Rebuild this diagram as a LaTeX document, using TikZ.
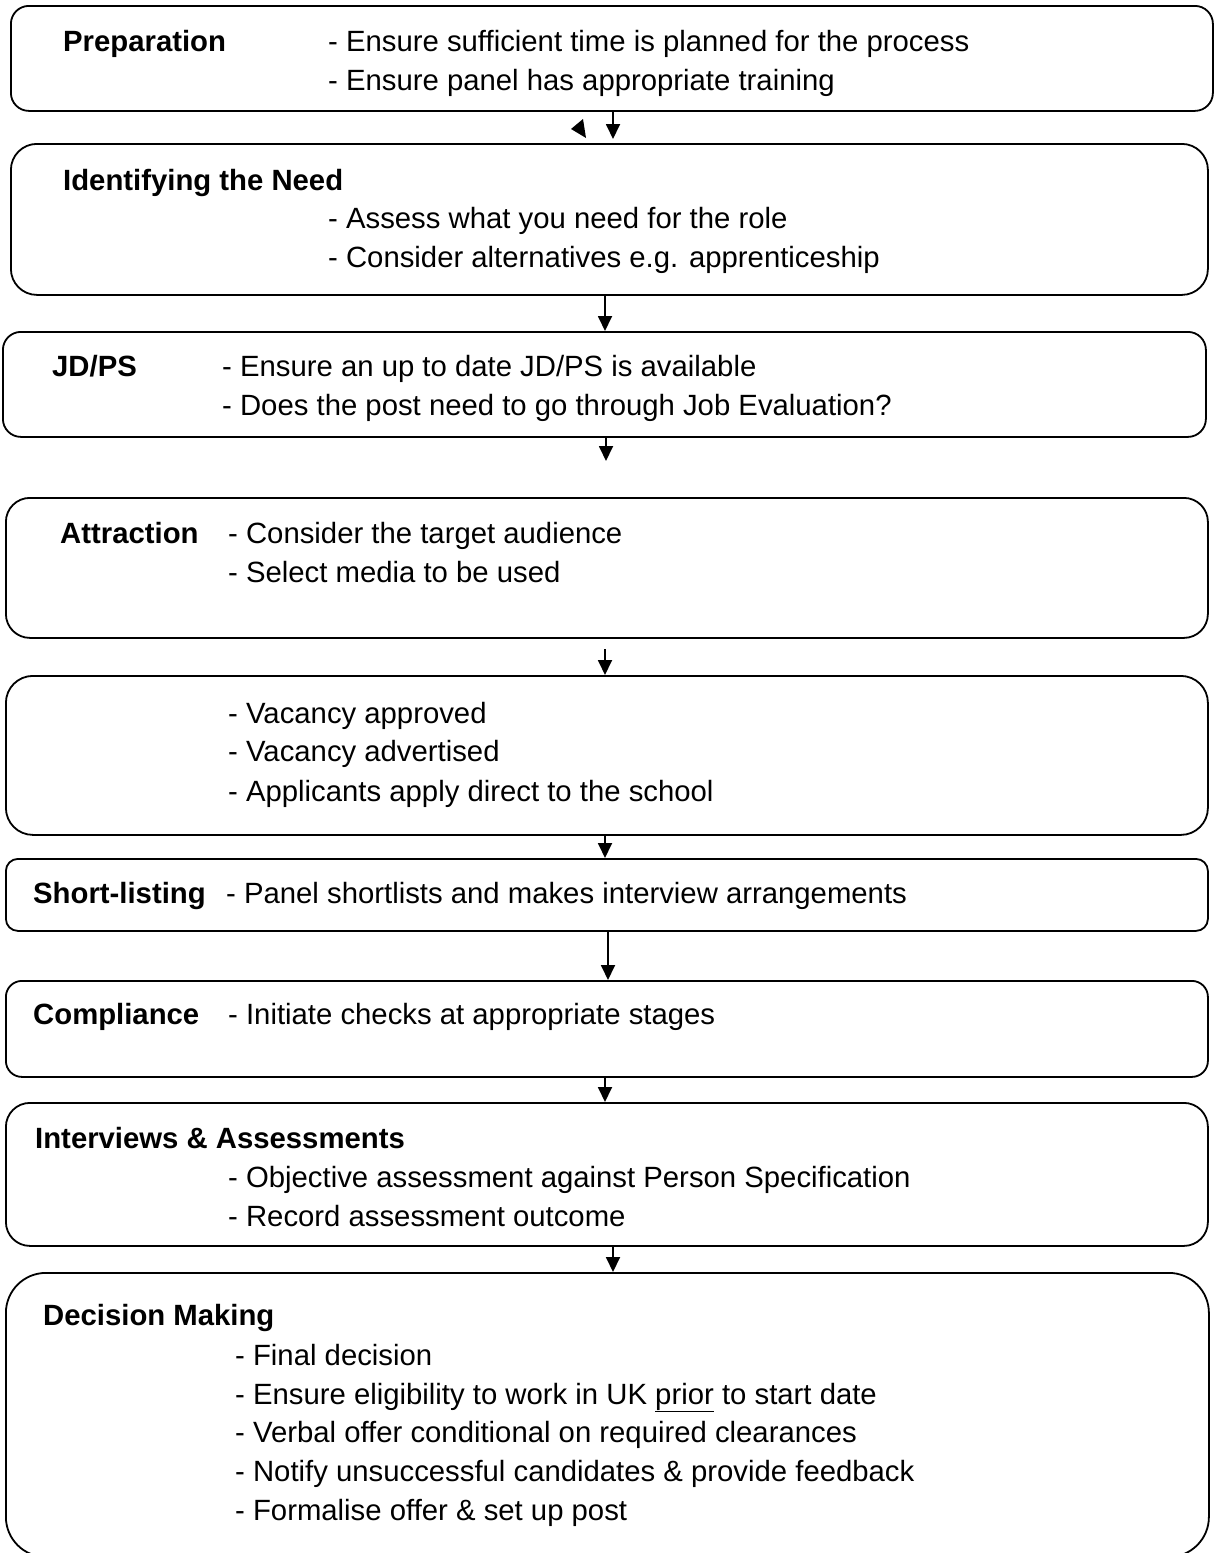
\documentclass[tikz,border=0pt]{standalone}
\usepackage{fontspec}
\setmainfont{Liberation Sans}
\usetikzlibrary{arrows.meta}
\begin{document}
\begin{tikzpicture}[x=1pt,y=-1pt,
  stage/.style={draw,line width=1.8pt,anchor=north west,inner sep=0pt},
  txt/.style={anchor=base west,inner sep=0pt,font=\fontsize{29.3}{40}\selectfont},
  hd/.style={txt,font=\fontsize{29.3}{40}\selectfont\bfseries},
  flow/.style={line width=1.8pt,-{Triangle[length=15pt,width=14pt]}}]
\useasboundingbox (0,0) rectangle (1216,1553);
\clip (0,0) rectangle (1216,1553);
% boxes
\node[stage,minimum width=1202pt,minimum height=105pt,rounded corners=18pt] (prep) at (10,5) {};
\node[stage,minimum width=1197pt,minimum height=151pt,rounded corners=26pt] (need) at (10,143) {};
\node[stage,minimum width=1203pt,minimum height=105pt,rounded corners=18pt] (jdps) at (2,331) {};
\node[stage,minimum width=1202pt,minimum height=140pt,rounded corners=24pt] (attr) at (5,497) {};
\node[stage,minimum width=1202pt,minimum height=159pt,rounded corners=27pt] (vac) at (5,675) {};
\node[stage,minimum width=1202pt,minimum height=72pt,rounded corners=12pt] (short) at (5,858) {};
\node[stage,minimum width=1202pt,minimum height=96pt,rounded corners=16pt] (comp) at (5,980) {};
\node[stage,minimum width=1202pt,minimum height=143pt,rounded corners=24pt] (intv) at (5,1102) {};
\node[stage,minimum width=1203pt,minimum height=284pt,rounded corners=40pt] (dec) at (5,1272) {};
% texts
\node[hd] (t1) at (63,51) {Preparation};
\node[txt] (t1a) at (328,51) {- Ensure sufficient time is planned for the process};
\node[txt] (t1b) at (328,90) {- Ensure panel has appropriate training};
\node[hd] (t2) at (63,190) {Identifying the Need};
\node[txt] (t2a) at (328,228) {- Assess what you need for the role};
\node[txt] (t2b) at (328,267) {- Consider alternatives e.g. apprenticeship};
\node[hd] (t3) at (52,376) {JD/PS};
\node[txt] (t3a) at (222,376) {- Ensure an up to date JD/PS is available};
\node[txt] (t3b) at (222,415) {- Does the post need to go through Job Evaluation?};
\node[hd] (t4) at (60,543) {Attraction};
\node[txt] (t4a) at (228,543) {- Consider the target audience};
\node[txt] (t4b) at (228,582) {- Select media to be used};
\node[txt] (t5a) at (228,723) {- Vacancy approved};
\node[txt] (t5b) at (228,761) {- Vacancy advertised};
\node[txt] (t5c) at (228,801) {- Applicants apply direct to the school};
\node[hd] (t6) at (33,903) {Short-listing};
\node[txt] (t6a) at (226,903) {- Panel shortlists and makes interview arrangements};
\node[hd] (t7) at (33,1024) {Compliance};
\node[txt] (t7a) at (228,1024) {- Initiate checks at appropriate stages};
\node[hd] (t8) at (35,1148) {Interviews \& Assessments};
\node[txt] (t8a) at (228,1187) {- Objective assessment against Person Specification};
\node[txt] (t8b) at (228,1226) {- Record assessment outcome};
\node[hd] (t9) at (43,1325) {Decision Making};
\node[txt] (t9a) at (235,1365) {- Final decision};
\node[txt] (t9b) at (235,1404) {- Ensure eligibility to work in UK \underline{prior} to start date};
\node[txt] (t9c) at (235,1442) {- Verbal offer conditional on required clearances};
\node[txt] (t9d) at (235,1481) {- Notify unsuccessful candidates \& provide feedback};
\node[txt] (t9e) at (235,1520) {- Formalise offer \& set up post};
% arrows
\coordinate (x1) at (613,0);
\coordinate (x2) at (605,0);
\coordinate (x3) at (606,461);
\coordinate (x4) at (605,649);
\coordinate (x6) at (608,0);
\draw[flow,shorten >=4pt] (prep.south -| x1) -- (need.north -| x1);
\fill (571,129) -- (583,119) -- (586,138) -- cycle;
\draw[flow] (need.south -| x2) -- (jdps.north -| x2);
\draw[flow] (jdps.south -| x3) -- (x3);
\draw[flow] (x4) -- (vac.north -| x4);
\draw[flow] (vac.south -| x2) -- (short.north -| x2);
\draw[flow] (short.south -| x6) -- (comp.north -| x6);
\draw[flow] (comp.south -| x2) -- (intv.north -| x2);
\draw[flow] (intv.south -| x1) -- (dec.north -| x1);
\end{tikzpicture}
\end{document}
